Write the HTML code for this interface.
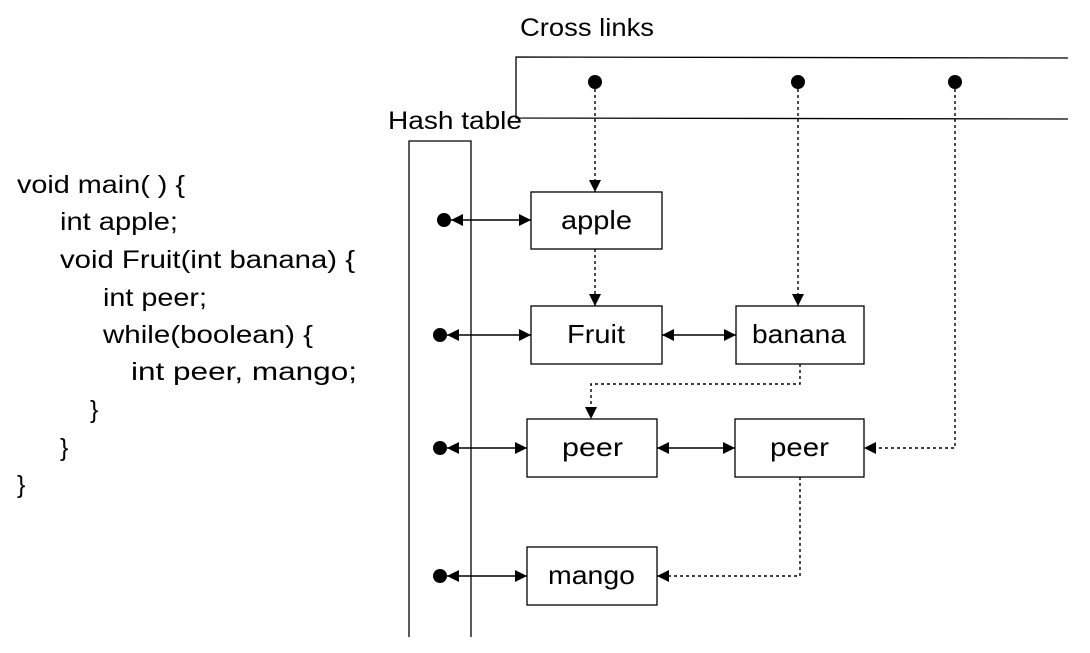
<!DOCTYPE html>
<html><head><meta charset="utf-8"><style>
html,body{margin:0;padding:0;background:#fff;}
svg{display:block;}
text{font-family:"Liberation Sans",sans-serif;fill:#000;}
</style></head><body>
<svg width="1090" height="653" viewBox="0 0 1090 653" xmlns="http://www.w3.org/2000/svg">
<defs>
<marker id="a" viewBox="0 0 10 10" refX="10" refY="5" markerWidth="12" markerHeight="12" markerUnits="userSpaceOnUse" orient="auto-start-reverse"><path d="M0,0 L10,5 L0,10 z" fill="#000"/></marker>
</defs>
<g font-size="25">
<text x="17" y="193" textLength="168" lengthAdjust="spacingAndGlyphs">void main( ) {</text>
<text x="60" y="230" textLength="118" lengthAdjust="spacingAndGlyphs">int apple;</text>
<text x="60" y="268" textLength="295" lengthAdjust="spacingAndGlyphs">void Fruit(int banana) {</text>
<text x="103" y="306" textLength="104" lengthAdjust="spacingAndGlyphs">int peer;</text>
<text x="103" y="343" textLength="210" lengthAdjust="spacingAndGlyphs">while(boolean) {</text>
<text x="131" y="380" textLength="226" lengthAdjust="spacingAndGlyphs">int peer, mango;</text>
<text x="90" y="418">}</text>
<text x="60" y="456">}</text>
<text x="17" y="493">}</text>
</g>
<text x="520" y="36" font-size="25" textLength="134" lengthAdjust="spacingAndGlyphs">Cross links</text>
<text x="388" y="129" font-size="25" textLength="134" lengthAdjust="spacingAndGlyphs">Hash table</text>
<g stroke="#000" stroke-width="1.3" fill="none">
<polyline points="1068,58 516,57 516,118 1068,119"/>
<polyline points="409,637 409,141 471,141 471,637"/>
<rect x="531" y="192" width="131" height="57"/>
<rect x="531" y="306" width="131" height="58"/>
<rect x="736" y="306" width="128" height="58"/>
<rect x="527" y="419" width="130" height="58"/>
<rect x="735" y="419" width="129" height="58"/>
<rect x="527" y="547" width="130" height="58"/>
</g>
<g fill="#000">
<circle cx="595" cy="82" r="7"/><circle cx="798" cy="82" r="7"/><circle cx="955" cy="82" r="7"/>
<circle cx="444" cy="220" r="7"/><circle cx="440" cy="335" r="7"/><circle cx="440" cy="448" r="7"/><circle cx="440" cy="576" r="7"/>
</g>
<g stroke="#000" stroke-width="1.6" fill="none" marker-start="url(#a)" marker-end="url(#a)">
<line x1="451" y1="220" x2="531" y2="220"/>
<line x1="447" y1="335" x2="531" y2="335"/>
<line x1="447" y1="448" x2="527" y2="448"/>
<line x1="447" y1="576" x2="527" y2="576"/>
<line x1="662" y1="335" x2="736" y2="335"/>
<line x1="657" y1="448" x2="735" y2="448"/>
</g>
<g stroke="#000" stroke-width="1.4" fill="none" stroke-dasharray="3,3" marker-end="url(#a)">
<line x1="595" y1="89" x2="595" y2="192"/>
<line x1="595" y1="249" x2="595" y2="306"/>
<line x1="798" y1="89" x2="798" y2="306"/>
<polyline points="800,364 800,384 591,384 591,419"/>
<polyline points="955,89 955,448 864,448"/>
<polyline points="800,477 800,576 657,576"/>
</g>
<g font-size="26">
<text x="561" y="229" textLength="71" lengthAdjust="spacingAndGlyphs">apple</text>
<text x="567" y="343" textLength="58" lengthAdjust="spacingAndGlyphs">Fruit</text>
<text x="752" y="343" textLength="94" lengthAdjust="spacingAndGlyphs">banana</text>
<text x="562" y="456" textLength="61" lengthAdjust="spacingAndGlyphs">peer</text>
<text x="770" y="456" textLength="59" lengthAdjust="spacingAndGlyphs">peer</text>
<text x="548" y="584" textLength="87" lengthAdjust="spacingAndGlyphs">mango</text>
</g>
</svg>
</body></html>
